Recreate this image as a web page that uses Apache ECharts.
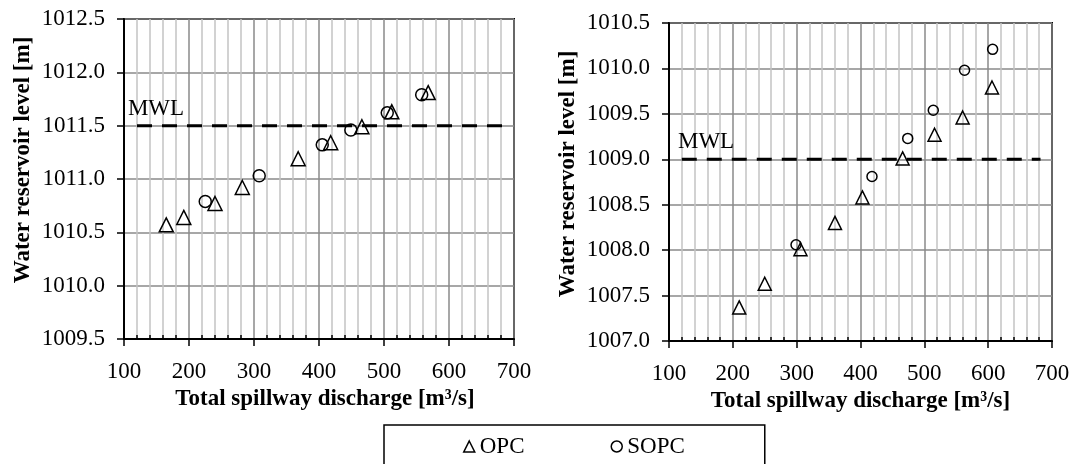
<!DOCTYPE html>
<html>
<head>
<meta charset="utf-8">
<script src="https://cdn.jsdelivr.net/npm/echarts@6/dist/echarts.min.js"></script>
<style>
html,body{margin:0;padding:0;background:#fff;}
#chart{width:1072px;height:464px;}
</style>
</head>
<body>
<div id="chart"></div>
<script>
// ---------- data ----------
const seriesNames = ['OPC', 'SOPC'];
const xAxisTitle = 'Total spillway discharge [m³/s]';
const yAxisTitle = 'Water reservoir level [m]';
const mwlText = 'MWL';

// Left panel
const leftOPCx = [165, 192, 240, 282, 368, 418, 466, 512, 568];
const leftOPCy = [1010.57, 1010.64, 1010.77, 1010.92, 1011.19, 1011.34, 1011.49, 1011.63, 1011.81];
const leftSOPCx = [225, 308, 405, 449, 505, 558];
const leftSOPCy = [1010.79, 1011.03, 1011.32, 1011.46, 1011.62, 1011.79];
const leftYRange = [1009.5, 1012.5];
const leftMWL = 1011.5;

// Right panel
const rightOPCx = [210, 250, 306, 360, 403, 466, 516, 560, 606];
const rightOPCy = [1007.37, 1007.63, 1008.01, 1008.30, 1008.58, 1009.01, 1009.27, 1009.46, 1009.79];
const rightSOPCx = [299, 418, 474, 514, 563, 607];
const rightSOPCy = [1008.06, 1008.81, 1009.23, 1009.54, 1009.98, 1010.21];
const rightYRange = [1007.0, 1010.5];
const rightMWL = 1009.0;

const xRange = [100, 700];
const xStep = 100;
const yStep = 0.5;
const mwlLineX = [120, 682];
const mwlLabelX = [106, 114];

// ---------- styling ----------
const FONT = "'Liberation Serif','Times New Roman',serif";
const FS = 23;
const black = '#000';

function zip(xs, ys) { return xs.map((x, i) => [x, ys[i]]); }

function mainX(gi, nameShift) {
  return {
    type: 'value', gridIndex: gi, position: 'bottom',
    min: xRange[0], max: xRange[1], interval: xStep,
    axisLine: { show: true, onZero: false, lineStyle: { color: black, width: 2 } },
    axisTick: { show: true, inside: false, length: 7, lineStyle: { color: black, width: 1.5 } },
    minorTick: { show: false, splitNumber: 5 },
    splitLine: { show: true, lineStyle: { color: '#8a8a8a', width: 1.5 } },
    minorSplitLine: { show: true, lineStyle: { color: '#c4c4c4', width: 1.5 } },
    axisLabel: { color: black, fontFamily: FONT, fontSize: FS, margin: 21, hideOverlap: false, showMinLabel: true, showMaxLabel: true },
    name: xAxisTitle, nameLocation: 'middle', nameGap: 46,
    nameTextStyle: { color: black, fontFamily: FONT, fontSize: FS, fontWeight: 'bold', padding: [0, 0, 0, nameShift] }
  };
}
function overlayX(gi) {
  return {
    type: 'value', gridIndex: gi, position: 'bottom',
    min: xRange[0], max: xRange[1], interval: xStep,
    axisLine: { show: false, onZero: false },
    axisTick: { show: false, inside: true },
    minorTick: { show: true, splitNumber: 5, length: 4, lineStyle: { color: black, width: 1.5 } },
    splitLine: { show: false }, minorSplitLine: { show: false },
    axisLabel: { show: false }
  };
}
function mainY(gi, range, nameShift) {
  return {
    type: 'value', gridIndex: gi, position: 'left',
    min: range[0], max: range[1], interval: yStep,
    axisLine: { show: true, onZero: false, lineStyle: { color: black, width: 2 } },
    axisTick: { show: true, inside: false, length: 7, lineStyle: { color: black, width: 1.5 } },
    splitLine: { show: true, lineStyle: { color: '#8a8a8a', width: 1.5 } },
    axisLabel: { color: black, fontFamily: FONT, fontSize: FS, margin: 19, formatter: v => v.toFixed(1), showMinLabel: true, showMaxLabel: true },
    name: yAxisTitle, nameLocation: 'middle', nameGap: 89,
    nameTextStyle: { color: black, fontFamily: FONT, fontSize: FS, fontWeight: 'bold', padding: [0, 0, 0, nameShift] }
  };
}

function scatter(name, xi, yi, data, symbol, size) {
  return {
    type: 'scatter', name: name, xAxisIndex: xi, yAxisIndex: yi,
    data: data, symbol: symbol, symbolSize: size,
    itemStyle: { color: 'rgba(0,0,0,0)', borderColor: black, borderWidth: 1.5, opacity: 1 },
    emphasis: { disabled: true }, z: 5
  };
}

function mwlSeries(xi, yi, level, labelX) {
  return {
    type: 'line', name: '_mwl' + xi, xAxisIndex: xi, yAxisIndex: yi,
    data: [[mwlLineX[0], level], [mwlLineX[1], level]],
    symbol: 'none', silent: true, z: 4,
    lineStyle: { color: black, width: 3, type: [15, 10] },
    markPoint: {
      silent: true, symbol: 'rect', symbolSize: 1,
      itemStyle: { color: 'rgba(0,0,0,0)' },
      data: [{ coord: [labelX, level] }],
      label: { show: true, formatter: mwlText, position: 'top', align: 'left', distance: 5,
        color: black, fontFamily: FONT, fontSize: FS }
    }
  };
}

const option = {
  animation: false,
  backgroundColor: '#fff',
  grid: [
    { left: 124, top: 19, width: 390, height: 320, show: true, borderColor: black, borderWidth: 2, backgroundColor: 'transparent', containLabel: false, outerBoundsMode: 'none' },
    { left: 669, top: 23, width: 383, height: 318, show: true, borderColor: black, borderWidth: 2, backgroundColor: 'transparent', containLabel: false, outerBoundsMode: 'none' }
  ],
  xAxis: [mainX(0, 12), overlayX(0), mainX(1, 0), overlayX(1)],
  yAxis: [mainY(0, leftYRange, 38), mainY(1, rightYRange, 16)],
  legend: {
    left: 384, top: 425,
    orient: 'horizontal',
    padding: [10, 80, 40, 79],
    itemGap: 86, itemWidth: 11, itemHeight: 11,
    borderColor: black, borderWidth: 1.5,
    selectedMode: false,
    textStyle: { color: black, fontFamily: FONT, fontSize: FS },
    itemStyle: { color: 'rgba(0,0,0,0)', borderColor: black, borderWidth: 1.5 },
    data: [{ name: seriesNames[0], icon: 'triangle' }, { name: seriesNames[1], icon: 'circle' }]
  },
  series: [
    mwlSeries(0, 0, leftMWL, mwlLabelX[0]),
    mwlSeries(2, 1, rightMWL, mwlLabelX[1]),
    scatter(seriesNames[0], 0, 0, zip(leftOPCx, leftOPCy), 'triangle', 14),
    scatter(seriesNames[1], 0, 0, zip(leftSOPCx, leftSOPCy), 'circle', 12),
    scatter(seriesNames[0], 2, 1, zip(rightOPCx, rightOPCy), 'triangle', 13),
    scatter(seriesNames[1], 2, 1, zip(rightSOPCx, rightSOPCy), 'circle', 10)
  ]
};

const chart = echarts.init(document.getElementById('chart'), null, { renderer: 'canvas', width: 1072, height: 464 });
chart.setOption(option);
</script>
</body>
</html>
